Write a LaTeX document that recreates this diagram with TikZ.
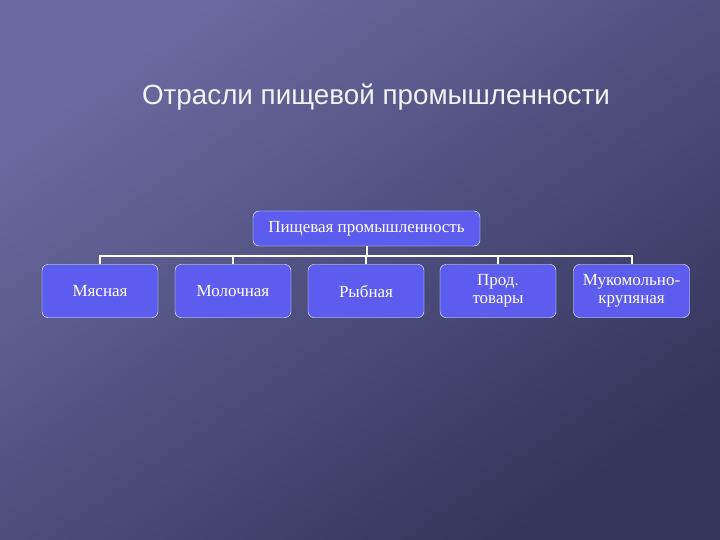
\documentclass[tikz,border=0pt]{standalone}
\usepackage{fontspec}
\setmainfont{Liberation Serif}
\newfontfamily\titlefont{Liberation Sans}
\usepackage{tikz}

\definecolor{bgtop}{HTML}{6A6AA0}
\definecolor{bgbot}{HTML}{34345C}
\definecolor{boxblue}{HTML}{5C5CEE}

\begin{document}
\begin{tikzpicture}[x=1pt, y=-1pt,
    branch/.style={rectangle, rounded corners=6pt, draw=white, fill=boxblue, text=white,
      minimum width=116pt, minimum height=53pt, align=center, inner sep=2pt,
      font=\fontsize{17}{18}\selectfont},
    link/.style={draw=white, line width=2pt}]
    % background
    \shade[top color=bgtop, bottom color=bgbot, shading angle=35] (0,0) rectangle (720,540);
    \useasboundingbox (0,0) rectangle (720,540);

    \node (title) [text=white!92!bgtop, font=\titlefont\fontsize{27.8}{30}\selectfont] at (376,97) {Отрасли пищевой промышленности};

    \node (food) [branch, minimum width=227pt, minimum height=35pt] at (366.5,228.5) {Пищевая промышленность};
    \node (meat) [branch] at (100,291) {Мясная};
    \node (milk) [branch] at (233,291) {Молочная};
    \node (fish) [branch] at (366,291) {Рыбная};
    \node (goods) [branch] at (498,291) {Прод.\\товары};
    \node (flour) [branch] at (631.5,291) {Мукомольно-\\крупяная};

    \foreach \n in {meat, milk, fish, goods, flour}
        \draw[link] (food.south) -- ++(0,10) -| (\n.north);
\end{tikzpicture}
\end{document}
